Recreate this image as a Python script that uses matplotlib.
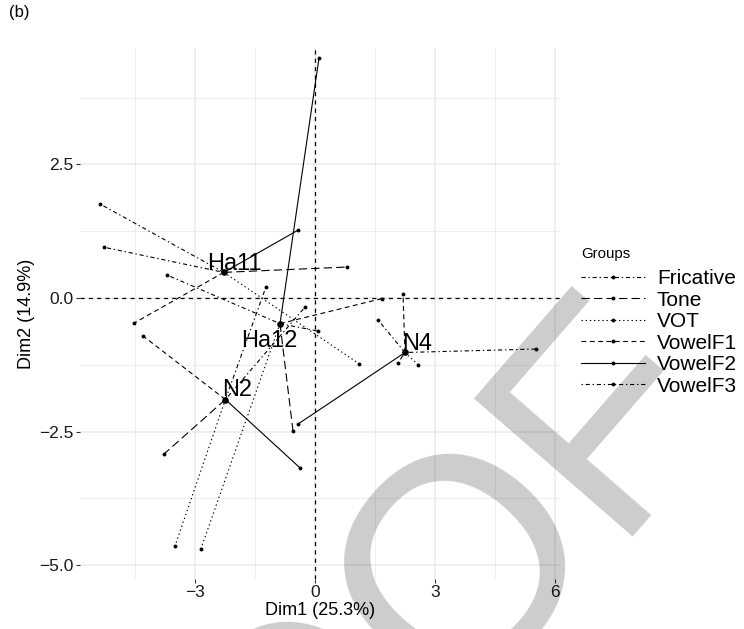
'''
MFA partial individuals plot: each individual is drawn at its
mean position, joined to the partial point of every variable group.
'''

import numpy as np
import matplotlib.pyplot as plt

plt.rcParams['font.family'] = ['Liberation Sans', 'DejaVu Sans']
plt.rcParams['lines.scale_dashes'] = False

###########################################
# data

individuals = ['Ha11', 'Ha12', 'N2', 'N4']
centerX = [-2.28, -0.875, -2.24, 2.25]
centerY = [0.48, -0.48, -1.90, -1.02]

groups = ['Fricative', 'Tone', 'VOT', 'VowelF1', 'VowelF2', 'VowelF3']

# partial coordinates, one row per individual, one column per group
partialX = [[-5.375, 0.80, 1.10, -4.525, -0.425, -5.275],
            [0.075, -0.55, -2.85, 1.675, 0.10, -3.70],
            [-1.225, -3.775, -3.50, -4.30, -0.375, -0.25],
            [1.575, 2.075, 2.575, 2.20, -0.425, 5.525]]
partialY = [[1.76, 0.58, -1.23, -0.47, 1.27, 0.95],
            [-0.62, -2.49, -4.69, -0.01, 4.49, 0.43],
            [0.21, -2.92, -4.64, -0.71, -3.18, -0.17],
            [-0.41, -1.215, -1.25, 0.075, -2.36, -0.955]]

dim1Pct = 25.3
dim2Pct = 14.9

###########################################
# line styles for the groups

styles = {'Fricative': (0, (3, 2, 1, 2)),
          'Tone': (0, (6, 3)),
          'VOT': (0, (1, 2)),
          'VowelF1': (0, (3.5, 2.5)),
          'VowelF2': '-',
          'VowelF3': (0, (1, 2, 3, 2))}

W, H = 744., 629.
fig = plt.figure(figsize=(W/100, H/100), dpi=100)
ax = fig.add_axes([80/W, 1-579/H, 480/W, 531/H])

xMin, xMax = -5.875, 6.125
yMin, yMax = -5.26, 4.68
ax.set_xlim(xMin, xMax)
ax.set_ylim(yMin, yMax)

# grid in the minimal style
for v in [-4.5, -1.5, 1.5, 4.5]:
  ax.axvline(v, color='#EBEBEB', lw=0.6, zorder=0)
for v in [-3.75, -1.25, 1.25, 3.75]:
  ax.axhline(v, color='#EBEBEB', lw=0.6, zorder=0)
for v in [-3, 0, 3, 6]:
  ax.axvline(v, color='#EBEBEB', lw=1.1, zorder=0)
for v in [-5, -2.5, 0, 2.5]:
  ax.axhline(v, color='#EBEBEB', lw=1.1, zorder=0)

# reference axes
ax.axhline(0, color='black', lw=0.9, ls=(0, (3, 3)), zorder=1)
ax.axvline(0, color='black', lw=0.9, ls=(0, (3, 3)), zorder=1)

# segments from each individual to its partial points
for i in range(len(individuals)):
  for j, g in enumerate(groups):
    ax.plot([centerX[i], partialX[i][j]], [centerY[i], partialY[i][j]],
            color='black', lw=0.8, ls=styles[g], zorder=2)
    ax.plot(partialX[i][j], partialY[i][j], 'o', color='black', ms=2.8,
            mec='none', zorder=3)

ax.plot(centerX, centerY, 'o', color='black', ms=4.8, mec='none', zorder=4)

# individual labels (baseline placed just beside the point)
offsets = {'Ha11': (0.275, 0.05), 'Ha12': (-0.26, -0.43),
           'N2': (0.305, 0.06), 'N4': (0.30, 0.05)}
for i, name in enumerate(individuals):
  dx, dy = offsets[name]
  ax.text(centerX[i] + dx, centerY[i] + dy, name, fontsize=17,
          ha='center', va='baseline', zorder=5)

# legend entries
handles = []
for g in groups:
  h, = ax.plot([], [], color='black', lw=0.8, ls=styles[g], marker='o',
               ms=2.8, mec='none')
  handles.append(h)
leg = fig.legend(handles, groups, title='Groups', loc='upper left',
                 bbox_to_anchor=(0.761, 0.631), frameon=False,
                 fontsize=15, title_fontsize=10.8, handlelength=3.1,
                 handletextpad=0.55, labelspacing=0.12, borderpad=0.2)
leg._legend_box.align = 'left'
leg._legend_box.sep = 6

# axes cosmetics
ax.set_xticks([-3, 0, 3, 6])
ax.set_xticklabels(['\u22123', '0', '3', '6'])
ax.set_yticks([-5, -2.5, 0, 2.5])
ax.set_yticklabels(['\u22125.0', '\u22122.5', '0.0', '2.5'])
ax.tick_params(length=3, width=0.8, color='#333333', labelsize=12.5,
               labelcolor='#1a1a1a', pad=1.5)
for s in ax.spines.values():
  s.set_visible(False)
ax.set_xlabel('Dim1 (%.1f%%)' % dim1Pct, fontsize=13, labelpad=1)
ax.set_ylabel('Dim2 (%.1f%%)' % dim2Pct, fontsize=13, labelpad=3)

fig.text(0.012, 0.992, '(b)', fontsize=12, ha='left', va='top')

# translucent PROOF stamp running up to the right
stamp = [('O', 368, 790), ('O', 530, 622), ('F', 670, 466)]
for ch, px, py in stamp:
  fig.text(px/W, 1-py/H, ch, fontsize=220, rotation=49,
           rotation_mode='anchor', ha='center', va='baseline',
           color='black', alpha=0.2, zorder=10)

fig.savefig('out.png', dpi=100)
